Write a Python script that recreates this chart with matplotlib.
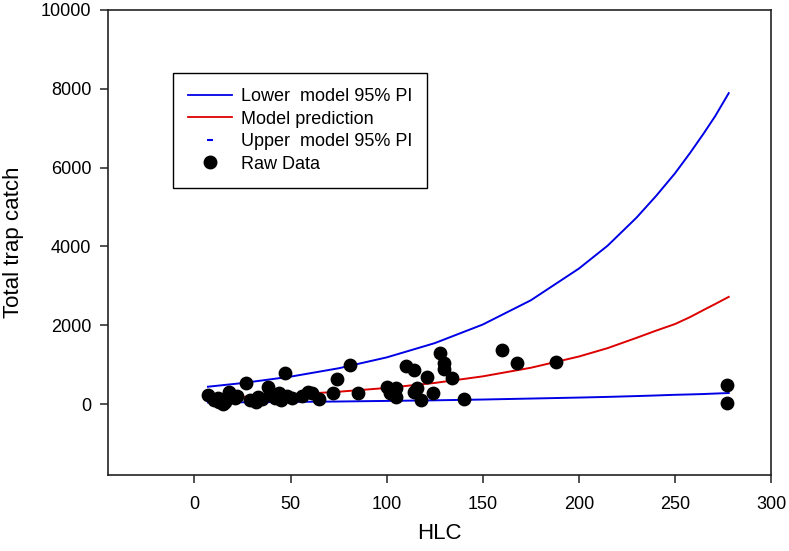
import numpy as np
import matplotlib.pyplot as plt
from matplotlib.lines import Line2D

plt.rcParams['font.family'] = ['Liberation Sans', 'DejaVu Sans']

# model curves
curve_x = [7, 25, 50, 75, 100, 125, 150, 175, 200, 215, 230, 240, 250, 258, 265, 271, 278]
upper_pi = [440, 533, 696, 908, 1184, 1546, 2018, 2633, 3437, 4020, 4730, 5270, 5853,
            6380, 6870, 7310, 7890]
model_pred = [150, 182, 239, 313, 409, 536, 703, 921, 1206, 1420, 1680, 1860, 2030,
              2210, 2390, 2540, 2720]
lower_pi = [40, 45, 55, 65, 80, 95, 115, 140, 165, 182, 203, 218, 235, 245, 255, 267, 280]

# raw data points
hlc = [7, 10, 12, 13, 15, 16, 18, 21, 22, 27, 29, 32, 33, 35, 38, 40, 42, 44,
       45, 47, 48, 51, 56, 59, 61, 65, 72, 74, 81, 85, 100, 102, 105, 105,
       110, 114, 114, 116, 118, 121, 124, 128, 130, 130, 134, 140, 160, 168,
       188, 277, 277]
catch = [228, 100, 150, 58, 10, 40, 312, 145, 200, 525, 100, 58, 180, 120,
         440, 228, 150, 270, 100, 779, 200, 145, 200, 312, 270, 119, 287, 627,
         990, 287, 440, 270, 398, 185, 964, 863, 312, 398, 100, 693, 270, 1302,
         1048, 880, 652, 140, 1370, 1033, 1058, 482, 33]

fig = plt.figure(figsize=(7.89, 5.51), dpi=100)
ax = fig.add_axes([108 / 789, 76 / 551, (771 - 108) / 789, (475 - 10) / 551])

ax.plot(curve_x, lower_pi, color='#0000e6', lw=1.4)
ax.plot(curve_x, model_pred, color='#dd0000', lw=1.4)
ax.plot(curve_x, upper_pi, color='#0000e6', lw=1.4)
ax.scatter(hlc, catch, s=80, color='black', zorder=3)

ax.set_xlim(-45, 300)
ax.set_ylim(-1800, 10000)
ax.set_xticks(np.arange(0, 301, 50))
ax.set_yticks(np.arange(0, 10001, 2000))
ax.tick_params(direction='out', length=6, width=1.1, labelsize=13, color='#222222')
ax.tick_params(axis='x', pad=9)
ax.tick_params(axis='y', pad=6)
for s in ax.spines.values():
    s.set_linewidth(1.2)
    s.set_color('#222222')

ax.set_xlabel('HLC', fontsize=16, labelpad=7)
ax.set_ylabel('Total trap catch', fontsize=16, labelpad=12)

handles = [
    Line2D([], [], color='#0000e6', lw=1.3),
    Line2D([], [], color='#dd0000', lw=1.3),
    Line2D([], [], color='#0000e6', marker='_', ms=5, mew=1.5, ls='none'),
    Line2D([], [], color='black', marker='o', ms=9, ls='none'),
]
labels = ['Lower  model 95% PI', 'Model prediction', 'Upper  model 95% PI', 'Raw Data']
leg = ax.legend(handles, labels, loc='upper left',
                bbox_to_anchor=(173 / 789, 1 - 73 / 551),
                bbox_transform=fig.transFigure, fontsize=13, frameon=True,
                fancybox=False, edgecolor='black', framealpha=1,
                handlelength=2.4, handletextpad=0.5, labelspacing=0.3,
                borderpad=0.85, borderaxespad=0)
leg.get_frame().set_linewidth(1.0)

fig.savefig('out.png', dpi=100)
